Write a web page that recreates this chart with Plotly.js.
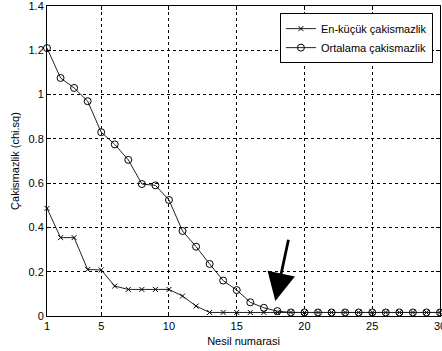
<!DOCTYPE html>
<html><head><meta charset="utf-8">
<script src="https://cdn.plot.ly/plotly-3.0.1.min.js"></script>
<style>html,body{margin:0;padding:0;background:#fff;}#chart{width:442px;height:351px;}</style>
</head><body><div id="chart"></div>
<script>
const generations = Array.from({length: 30}, (_, i) => i + 1);
const minFitness = [0.486, 0.354, 0.354, 0.21, 0.208, 0.135, 0.12, 0.12, 0.12, 0.12, 0.09, 0.045, 0.016, 0.016, 0.016, 0.016, 0.016, 0.016, 0.016, 0.016, 0.016, 0.016, 0.016, 0.016, 0.016, 0.016, 0.016, 0.016, 0.016, 0.016];
const meanFitness = [1.21, 1.075, 1.03, 0.97, 0.83, 0.775, 0.705, 0.596, 0.59, 0.524, 0.384, 0.313, 0.235, 0.16, 0.117, 0.062, 0.037, 0.022, 0.016, 0.016, 0.016, 0.016, 0.016, 0.016, 0.016, 0.016, 0.016, 0.016, 0.016, 0.016];
const seriesNames = ["En-küçük çakismazlik", "Ortalama çakismazlik"];
const xTicks = [1, 5, 10, 15, 20, 25, 30];
const yTicks = [0, 0.2, 0.4, 0.6, 0.8, 1, 1.2, 1.4];
const yTickText = ["0", "0.2", "0.4", "0.6", "0.8", "1", "1.2", "1.4"];

const font = {family: "Liberation Sans, Arial, sans-serif", size: 11, color: "#000"};
const traces = [
  {x: generations, y: minFitness, name: seriesNames[0], mode: "lines+markers", cliponaxis: false,
   line: {color: "#222", width: 1}, marker: {symbol: "x-thin-open", size: 5, color: "#000", line: {width: 1, color: "#000"}}},
  {x: generations, y: meanFitness, name: seriesNames[1], mode: "lines+markers", cliponaxis: false,
   line: {color: "#222", width: 1}, marker: {symbol: "circle-open", size: 7, color: "#000", line: {width: 1, color: "#000"}}}
];
const axisCommon = {showline: true, mirror: "ticks", linecolor: "#000", linewidth: 1, ticks: "inside", ticklen: 4, tickcolor: "#000",
  showgrid: true, gridcolor: "#000", griddash: "dot", gridwidth: 1, zeroline: false, tickfont: font, ticklabeloverflow: "allow"};
const layout = {
  width: 442, height: 351, margin: {l: 47, r: 2, t: 6, b: 35},
  paper_bgcolor: "#fff", plot_bgcolor: "#fff", font: font, showlegend: true,
  xaxis: Object.assign({}, axisCommon, {range: [1, 30], tickvals: xTicks, title: {text: "Nesil numarasi", font: font, standoff: 6}}),
  yaxis: Object.assign({}, axisCommon, {range: [0, 1.4], tickvals: yTicks, ticktext: yTickText, title: {text: "Çakismazlik (chi.sq)", font: font, standoff: 6}}),
  legend: {x: 0.982, xanchor: "right", y: 0.977, yanchor: "top", bgcolor: "#fff", bordercolor: "#000", borderwidth: 1,
    font: {family: font.family, size: 11, color: "#000"}, tracegroupgap: 0, itemwidth: 30},
  annotations: [{x: 17.85, y: 0.068, ax: 18.84, ay: 0.351, xref: "x", yref: "y", axref: "x", ayref: "y",
    text: "", showarrow: true, arrowhead: 2, arrowsize: 2, arrowwidth: 2.8, arrowcolor: "#000"}]
};
Plotly.newPlot("chart", traces, layout, {staticPlot: true, displayModeBar: false});
</script></body></html>
